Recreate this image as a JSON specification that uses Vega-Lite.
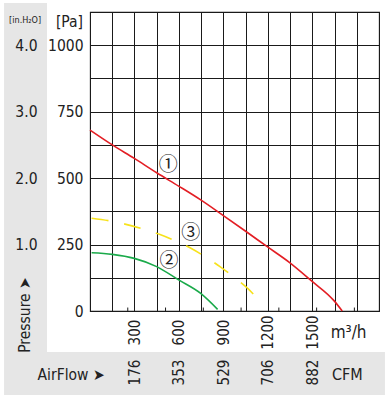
{
  "$schema": "https://vega.github.io/schema/vega-lite/v6.json",
  "width": 289,
  "height": 299,
  "autosize": "none",
  "padding": {"left": 90, "top": 12, "right": 12, "bottom": 90},
  "background": "white",
  "config": {
    "view": {"stroke": "#1a1a1a", "strokeWidth": 1.1},
    "font": "DejaVu Sans Condensed, Noto Sans",
    "text": {"font": "DejaVu Sans Condensed, Noto Sans", "color": "#222"}
  },
  "datasets": {
    "red": [
      {"flow": 0, "pressure": 681}, {"flow": 151, "pressure": 625}, {"flow": 299, "pressure": 574},
      {"flow": 450, "pressure": 520}, {"flow": 598, "pressure": 470}, {"flow": 747, "pressure": 418},
      {"flow": 900, "pressure": 359}, {"flow": 1048, "pressure": 301}, {"flow": 1196, "pressure": 242},
      {"flow": 1345, "pressure": 183}, {"flow": 1493, "pressure": 114}, {"flow": 1646, "pressure": 39},
      {"flow": 1702, "pressure": 0}
    ],
    "green": [
      {"flow": 11, "pressure": 219}, {"flow": 151, "pressure": 213}, {"flow": 299, "pressure": 198},
      {"flow": 450, "pressure": 167}, {"flow": 598, "pressure": 117}, {"flow": 747, "pressure": 66},
      {"flow": 861, "pressure": 6}
    ],
    "yellow": [
      {"flow": 11, "pressure": 349}, {"flow": 124, "pressure": 340}, {"flow": 243, "pressure": 326},
      {"flow": 355, "pressure": 309}, {"flow": 468, "pressure": 289}, {"flow": 580, "pressure": 263},
      {"flow": 681, "pressure": 236}, {"flow": 783, "pressure": 202}, {"flow": 877, "pressure": 167},
      {"flow": 972, "pressure": 127}, {"flow": 1064, "pressure": 85}, {"flow": 1142, "pressure": 39}
    ],
    "cfmticks": [
      {"flow": 254.9}, {"flow": 509.7}, {"flow": 764.6}, {"flow": 1019.4},
      {"flow": 1274.3}, {"flow": 1529.1}, {"flow": 1783.9}
    ],
    "curvelabels": [
      {"flow": 528, "pressure": 549, "label": "①"},
      {"flow": 533, "pressure": 188, "label": "②"},
      {"flow": 679, "pressure": 292, "label": "③"}
    ]
  },
  "resolve": {"axis": {"x": "independent", "y": "independent"}},
  "layer": [
    {
      "data": {"values": [{}]},
      "mark": {"type": "rect", "color": "#e6e6e6"},
      "encoding": {
        "x": {"datum": -580, "type": "quantitative", "scale": {"domain": [0, 1950], "nice": false, "zero": false}, "axis": null},
        "x2": {"datum": -290},
        "y": {"datum": 1159, "type": "quantitative", "scale": {"domain": [0, 1125], "nice": false, "zero": false}, "axis": null},
        "y2": {"datum": -154}
      }
    },
    {
      "data": {"values": [{}]},
      "mark": {"type": "rect", "color": "#e6e6e6"},
      "encoding": {
        "x": {"datum": -580, "type": "quantitative", "scale": {"domain": [0, 1950], "nice": false, "zero": false}, "axis": null},
        "x2": {"datum": 1990},
        "y": {"datum": -154, "type": "quantitative", "scale": {"domain": [0, 1125], "nice": false, "zero": false}, "axis": null},
        "y2": {"datum": -316}
      }
    },
    {
      "data": {"name": "red"},
      "mark": {"type": "line", "color": "#e31e24", "strokeWidth": 1.6, "interpolate": "monotone"},
      "encoding": {
        "x": {
          "field": "flow", "type": "quantitative",
          "scale": {"domain": [0, 1950], "nice": false, "zero": false},
          "axis": {
            "orient": "bottom",
            "values": [0, 150, 300, 450, 600, 750, 900, 1050, 1200, 1350, 1500, 1650, 1800, 1950],
            "format": "d",
            "labelExpr": "(datum.value >= 300 && datum.value <= 1500 && datum.value % 300 == 0) ? datum.label : ''",
            "grid": true, "gridColor": "#1a1a1a", "gridOpacity": 1, "gridWidth": 1,
            "ticks": false, "domain": false,
            "labelAngle": 270, "labelAlign": "center", "labelBaseline": "middle",
            "labelPadding": 21, "labelFontSize": 15, "labelColor": "#222",
            "labelFont": "DejaVu Sans Condensed, Noto Sans",
            "labelOverlap": false, "labelFlush": false, "title": null
          }
        },
        "y": {
          "field": "pressure", "type": "quantitative",
          "scale": {"domain": [0, 1125], "nice": false, "zero": false},
          "axis": {
            "orient": "left",
            "values": [0, 125, 250, 375, 500, 625, 750, 875, 1000, 1125],
            "format": "d",
            "labelExpr": "(datum.value <= 1000 && datum.value % 250 == 0) ? datum.label : ''",
            "grid": true, "gridColor": "#1a1a1a", "gridOpacity": 1, "gridWidth": 1,
            "ticks": false, "domain": false,
            "labelPadding": 7, "labelFontSize": 15.5, "labelColor": "#222",
            "labelFont": "DejaVu Sans Condensed, Noto Sans",
            "labelOverlap": false, "labelFlush": false, "title": null
          }
        }
      }
    },
    {
      "data": {"name": "green"},
      "mark": {"type": "line", "color": "#1aaa4a", "strokeWidth": 1.6, "interpolate": "monotone"},
      "encoding": {
        "x": {
          "field": "flow", "type": "quantitative",
          "scale": {"domain": [0, 1950], "nice": false, "zero": false},
          "axis": {
            "orient": "bottom",
            "values": [300, 600, 900, 1200, 1500],
            "labelExpr": "datum.value == 300 ? '176' : datum.value == 600 ? '353' : datum.value == 900 ? '529' : datum.value == 1200 ? '706' : '882'",
            "grid": false, "ticks": false, "domain": false, "zindex": 1,
            "labelAngle": 270, "labelAlign": "center", "labelBaseline": "middle",
            "labelPadding": 61, "labelFontSize": 15, "labelColor": "#222",
            "labelFont": "DejaVu Sans Condensed, Noto Sans",
            "labelOverlap": false, "labelFlush": false, "title": null
          }
        },
        "y": {
          "field": "pressure", "type": "quantitative",
          "scale": {"domain": [0, 1125], "nice": false, "zero": false},
          "axis": {
            "orient": "left", "offset": 46,
            "values": [250, 500, 750, 1000],
            "labelExpr": "format(datum.value / 250, '.1f')",
            "grid": false, "ticks": false, "domain": false, "zindex": 1,
            "labelPadding": 7, "labelFontSize": 15.5, "labelColor": "#222",
            "labelFont": "DejaVu Sans Condensed, Noto Sans",
            "labelOverlap": false, "labelFlush": false, "title": null
          }
        }
      }
    },
    {
      "data": {"name": "yellow"},
      "mark": {"type": "line", "color": "#f7e21b", "strokeWidth": 1.6, "strokeDash": [17, 16], "interpolate": "monotone"},
      "encoding": {
        "x": {"field": "flow", "type": "quantitative", "scale": {"domain": [0, 1950], "nice": false, "zero": false}, "axis": null},
        "y": {"field": "pressure", "type": "quantitative", "scale": {"domain": [0, 1125], "nice": false, "zero": false}, "axis": null}
      }
    },
    {
      "data": {"name": "cfmticks"},
      "mark": {"type": "rule", "color": "#1a1a1a", "strokeWidth": 1},
      "encoding": {
        "x": {"field": "flow", "type": "quantitative", "scale": {"domain": [0, 1950], "nice": false, "zero": false}, "axis": null},
        "y": {"datum": 0, "type": "quantitative", "scale": {"domain": [0, 1125], "nice": false, "zero": false}, "axis": null},
        "y2": {"datum": 13}
      }
    },
    {
      "data": {"name": "curvelabels"},
      "mark": {"type": "text", "fontSize": 19, "align": "center", "baseline": "middle", "color": "#222", "font": "Noto Sans CJK JP, DejaVu Sans"},
      "encoding": {
        "x": {"field": "flow", "type": "quantitative", "scale": {"domain": [0, 1950], "nice": false, "zero": false}, "axis": null},
        "y": {"field": "pressure", "type": "quantitative", "scale": {"domain": [0, 1125], "nice": false, "zero": false}, "axis": null},
        "text": {"field": "label"}
      }
    },
    {
      "data": {"values": [{}]},
      "mark": {"type": "text", "text": "[Pa]", "fontSize": 15.5, "align": "right", "baseline": "middle", "color": "#222"},
      "encoding": {
        "x": {"datum": -47, "type": "quantitative", "scale": {"domain": [0, 1950], "nice": false, "zero": false}, "axis": null},
        "y": {"datum": 1089, "type": "quantitative", "scale": {"domain": [0, 1125], "nice": false, "zero": false}, "axis": null}
      }
    },
    {
      "data": {"values": [{}]},
      "mark": {"type": "text", "text": "[in.H₂O]", "fontSize": 9, "align": "center", "baseline": "middle", "color": "#222", "font": "Liberation Sans Narrow, DejaVu Sans Condensed"},
      "encoding": {
        "x": {"datum": -438, "type": "quantitative", "scale": {"domain": [0, 1950], "nice": false, "zero": false}, "axis": null},
        "y": {"datum": 1095, "type": "quantitative", "scale": {"domain": [0, 1125], "nice": false, "zero": false}, "axis": null}
      }
    },
    {
      "data": {"values": [{}]},
      "mark": {"type": "text", "text": "Pressure ➤", "fontSize": 15.5, "angle": 270, "align": "center", "baseline": "middle", "color": "#222"},
      "encoding": {
        "x": {"datum": -438, "type": "quantitative", "scale": {"domain": [0, 1950], "nice": false, "zero": false}, "axis": null},
        "y": {"datum": -15, "type": "quantitative", "scale": {"domain": [0, 1125], "nice": false, "zero": false}, "axis": null}
      }
    },
    {
      "data": {"values": [{}]},
      "mark": {"type": "text", "text": "AirFlow ➤", "fontSize": 15.5, "align": "left", "baseline": "middle", "color": "#222"},
      "encoding": {
        "x": {"datum": -354, "type": "quantitative", "scale": {"domain": [0, 1950], "nice": false, "zero": false}, "axis": null},
        "y": {"datum": -241, "type": "quantitative", "scale": {"domain": [0, 1125], "nice": false, "zero": false}, "axis": null}
      }
    },
    {
      "data": {"values": [{}]},
      "mark": {"type": "text", "text": "m³/h", "fontSize": 17, "align": "left", "baseline": "middle", "color": "#222"},
      "encoding": {
        "x": {"datum": 1624, "type": "quantitative", "scale": {"domain": [0, 1950], "nice": false, "zero": false}, "axis": null},
        "y": {"datum": -83, "type": "quantitative", "scale": {"domain": [0, 1125], "nice": false, "zero": false}, "axis": null}
      }
    },
    {
      "data": {"values": [{}]},
      "mark": {"type": "text", "text": "CFM", "fontSize": 16, "align": "left", "baseline": "middle", "color": "#222"},
      "encoding": {
        "x": {"datum": 1633, "type": "quantitative", "scale": {"domain": [0, 1950], "nice": false, "zero": false}, "axis": null},
        "y": {"datum": -241, "type": "quantitative", "scale": {"domain": [0, 1125], "nice": false, "zero": false}, "axis": null}
      }
    }
  ]
}
